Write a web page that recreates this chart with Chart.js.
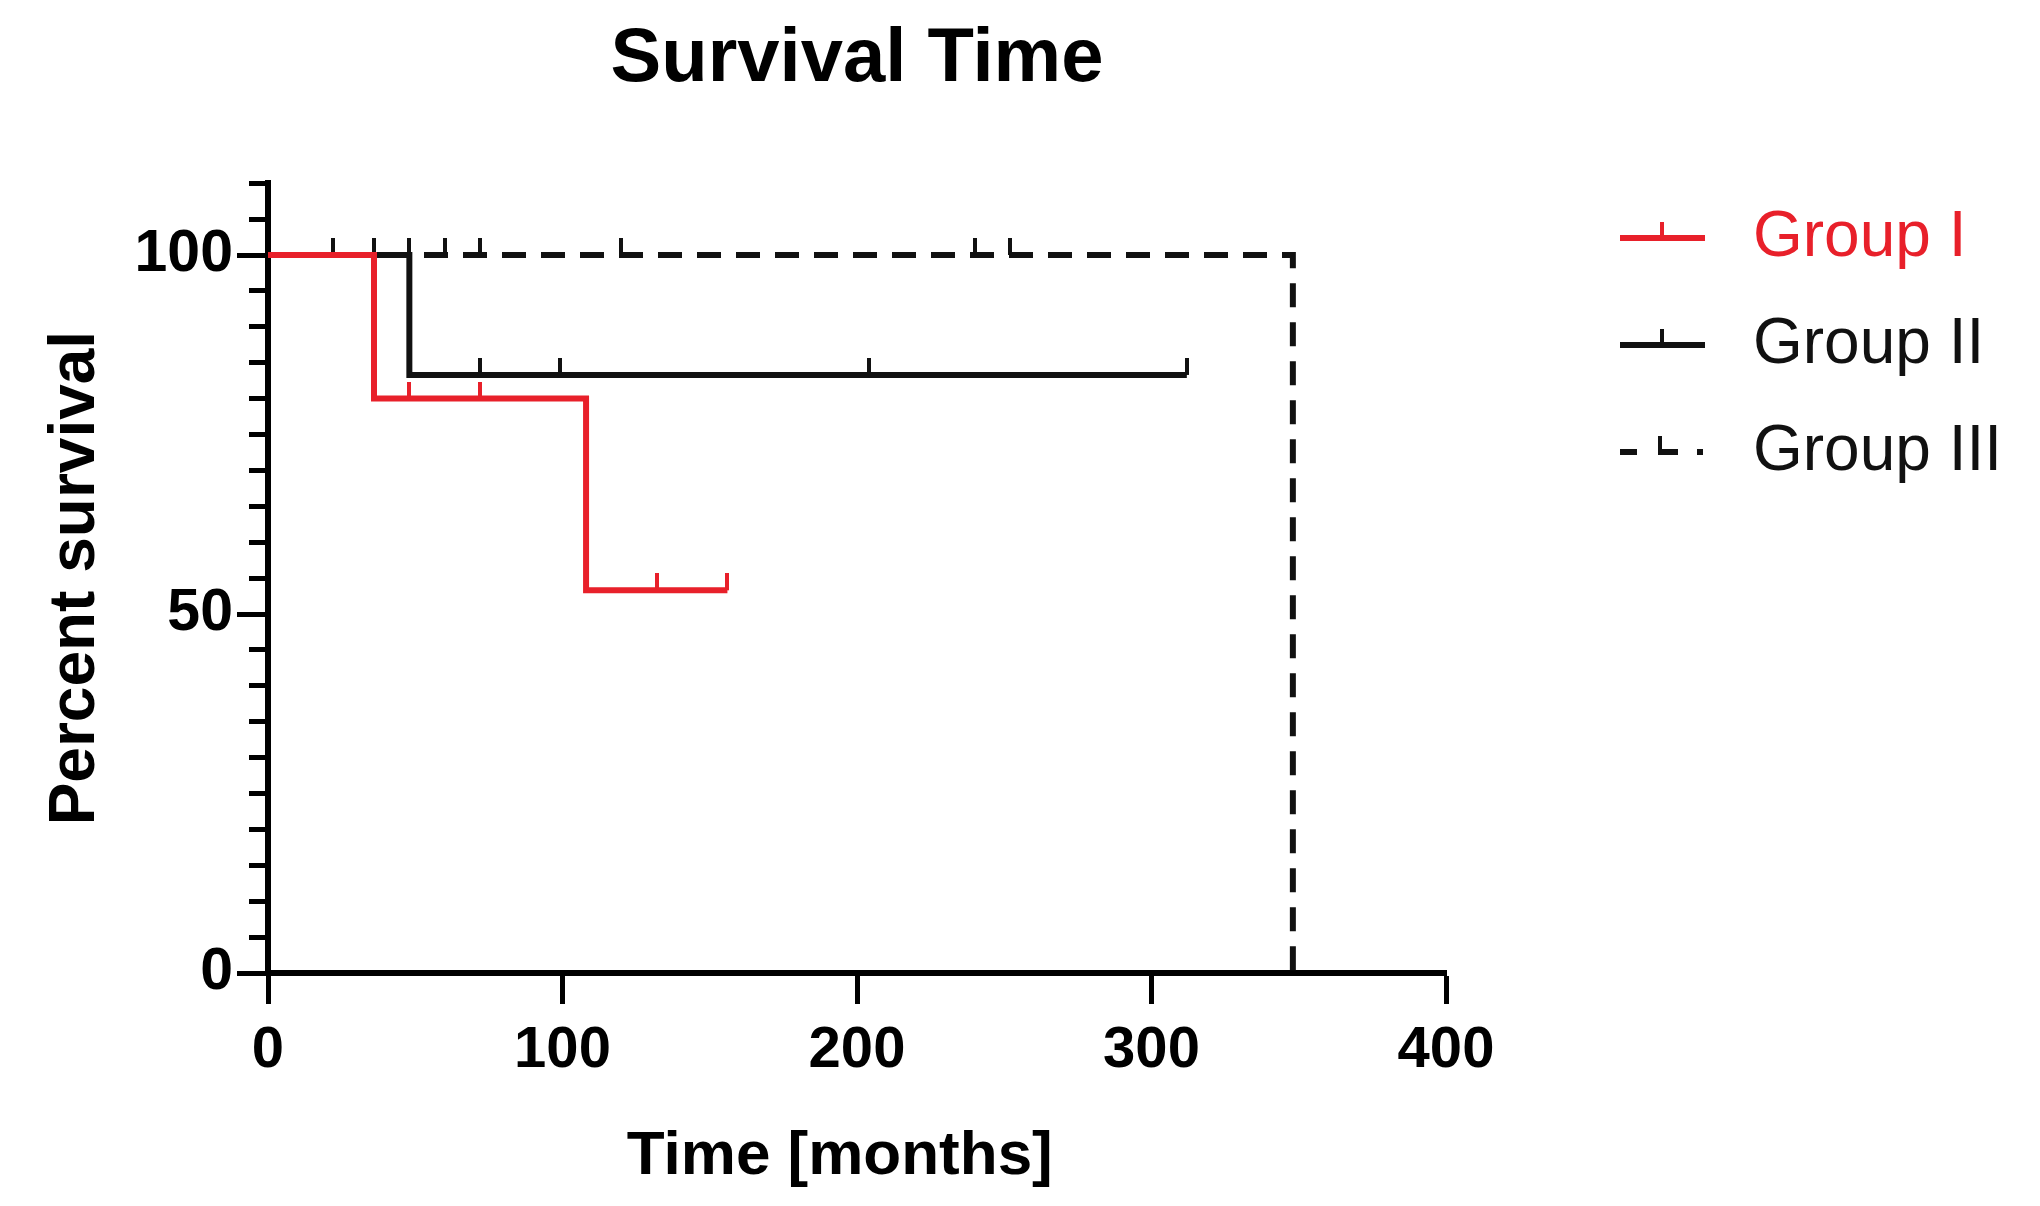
<!DOCTYPE html>
<html>
<head>
<meta charset="utf-8">
<script src="https://cdn.jsdelivr.net/npm/chart.js@4.4.1/dist/chart.umd.min.js"></script>
<style>
  html, body { margin: 0; padding: 0; background: #ffffff; }
  #wrap { width: 2040px; height: 1206px; }
</style>
</head>
<body>
<div id="wrap"><canvas id="c" width="2040" height="1206"></canvas></div>
<script>
// ---- data ----
const chartTitle = 'Survival Time';
const xAxisTitle = 'Time [months]';
const yAxisTitle = 'Percent survival';
const groupNames = ['Group I', 'Group II', 'Group III'];

const groupITime = [0, 36, 108, 156];
const groupISurv = [100, 80, 53.3, 53.3];
const groupICensorTime = [48, 72, 132, 156];
const groupICensorSurv = [80, 80, 53.3, 53.3];

const groupIITime = [0, 48, 312];
const groupIISurv = [100, 83.3, 83.3];
const groupIICensorTime = [22, 36, 72, 99, 204, 312];
const groupIICensorSurv = [100, 100, 83.3, 83.3, 83.3, 83.3];

const groupIIITime = [0, 348, 348];
const groupIIISurv = [100, 100, 0];
const groupIIICensorTime = [48, 60, 72, 120, 240, 252];
const groupIIICensorSurv = [100, 100, 100, 100, 100, 100];

const xTickValues = [0, 100, 200, 300, 400];
const yTickLabels = [0, 50, 100];

// ---- styles ----
const RED = '#e8202a';
const BLACK = '#111111';
const colors = [RED, BLACK, BLACK];
const FONT = "'Liberation Sans', Arial, Helvetica, sans-serif";
const LEFT_SHIFT = 300; // widens layout space so the right legend is not clamped
const ICON_W = 232;

function pts(xs, ys) { return xs.map((x, i) => ({ x: x, y: ys[i] })); }

function censorMark(color) {
  const c = document.createElement('canvas');
  c.width = 4; c.height = 34;
  const g = c.getContext('2d');
  g.fillStyle = color;
  g.fillRect(0, 0, 4, 17);
  return c;
}

function legendIcon(color, dashed) {
  const c = document.createElement('canvas');
  c.width = ICON_W; c.height = 40;
  const g = c.getContext('2d');
  g.fillStyle = color;
  const y0 = 20 - 3;
  const s = ICON_W - 226 + 125;
  if (!dashed) {
    g.fillRect(s, y0, 85, 6);
    g.fillRect(s + 40, y0 - 13, 4, 15);
  } else {
    g.fillRect(s, y0, 17, 6);
    g.fillRect(s + 38, y0, 20, 6);
    g.fillRect(s + 38, y0 - 13, 4, 15);
    g.fillRect(s + 77, y0, 6, 6);
  }
  return c;
}
const legendIcons = [legendIcon(RED, false), legendIcon(BLACK, false), legendIcon(BLACK, true)];

const stepDs = (label, data, color, dash) => ({
  label: label, data: data, borderColor: color, backgroundColor: color,
  borderWidth: 6, stepped: true, pointRadius: 0, fill: false,
  borderDash: dash || [], borderCapStyle: 'butt', clip: 10
});
const censorDs = (label, data, color) => ({
  label: label, data: data, showLine: false, pointRadius: 3, pointHoverRadius: 3,
  pointStyle: censorMark(color), borderColor: color, backgroundColor: color, clip: false
});

const datasets = [
  stepDs(groupNames[0], pts(groupITime, groupISurv), RED),
  stepDs(groupNames[1], pts(groupIITime, groupIISurv), BLACK),
  stepDs(groupNames[2], pts(groupIIITime, groupIIISurv), BLACK, [24, 15]),
  censorDs('c1', pts(groupICensorTime, groupICensorSurv), RED),
  censorDs('c2', pts(groupIICensorTime, groupIICensorSurv), BLACK),
  censorDs('c3', pts(groupIIICensorTime, groupIIICensorSurv), BLACK)
];

new Chart(document.getElementById('c'), {
  type: 'line',
  data: { datasets: datasets },
  options: {
    responsive: false,
    animation: false,
    devicePixelRatio: 1,
    layout: { padding: { left: -LEFT_SHIFT, right: 28, top: 0, bottom: 0 } },
    plugins: {
      tooltip: { enabled: false },
      title: {
        display: true, text: chartTitle, fullSize: false, color: '#000',
        font: { family: FONT, size: 76, weight: 'bold', lineHeight: 1.2 },
        padding: { top: 14, bottom: 78 }
      },
      legend: {
        display: true, position: 'right', align: 'start', fullSize: true,
        title: { display: true, text: ' ', font: { size: 10, lineHeight: 1 }, padding: { top: 153, bottom: 0 } },
        labels: {
          usePointStyle: true, pointStyleWidth: ICON_W, padding: 43,
          font: { family: FONT, size: 64, weight: 'normal' },
          generateLabels: () => groupNames.map((name, i) => ({
            text: name, fontColor: colors[i], pointStyle: legendIcons[i],
            datasetIndex: i, hidden: false, lineWidth: 0,
            strokeStyle: 'rgba(0,0,0,0)', fillStyle: 'rgba(0,0,0,0)'
          }))
        }
      }
    },
    scales: {
      x: {
        type: 'linear', min: 0, max: 400,
        afterFit: (s) => { s.height = 233; },
        afterBuildTicks: (s) => { s.ticks = xTickValues.map(v => ({ value: v })); },
        border: { display: true, color: '#000', width: 6 },
        grid: { drawOnChartArea: false, drawTicks: true, tickLength: 31, tickWidth: 5, tickColor: '#000' },
        ticks: { color: '#000', padding: 12, maxRotation: 0, autoSkip: false,
          font: { family: FONT, size: 58, weight: 'bold' } },
        title: { display: true, text: xAxisTitle + '  ', color: '#000',
          font: { family: FONT, size: 62, weight: 'bold', lineHeight: 1.2 },
          padding: { top: 12, bottom: 12 } }
      },
      y: {
        type: 'linear', min: 0, max: 110,
        afterFit: (s) => { s.width = 268 + LEFT_SHIFT; },
        border: { display: true, color: '#000', width: 6 },
        grid: {
          drawOnChartArea: false, drawTicks: true, tickLength: 31, tickWidth: 5, tickColor: '#000',
          tickBorderDash: (ctx) => (yTickLabels.includes(ctx.tick.value) ? [] : [0, 12, 100])
        },
        ticks: {
          stepSize: 5, autoSkip: false, color: '#000', padding: 4,
          font: { family: FONT, size: 59, weight: 'bold' },
          callback: (v) => (yTickLabels.includes(v) ? String(v) : '')
        },
        title: { display: true, text: yAxisTitle, color: '#000',
          font: { family: FONT, size: 64, weight: 'bold', lineHeight: 1.2 },
          padding: { top: 38 + LEFT_SHIFT, bottom: 0 } }
      }
    }
  }
});
</script>
</body>
</html>
